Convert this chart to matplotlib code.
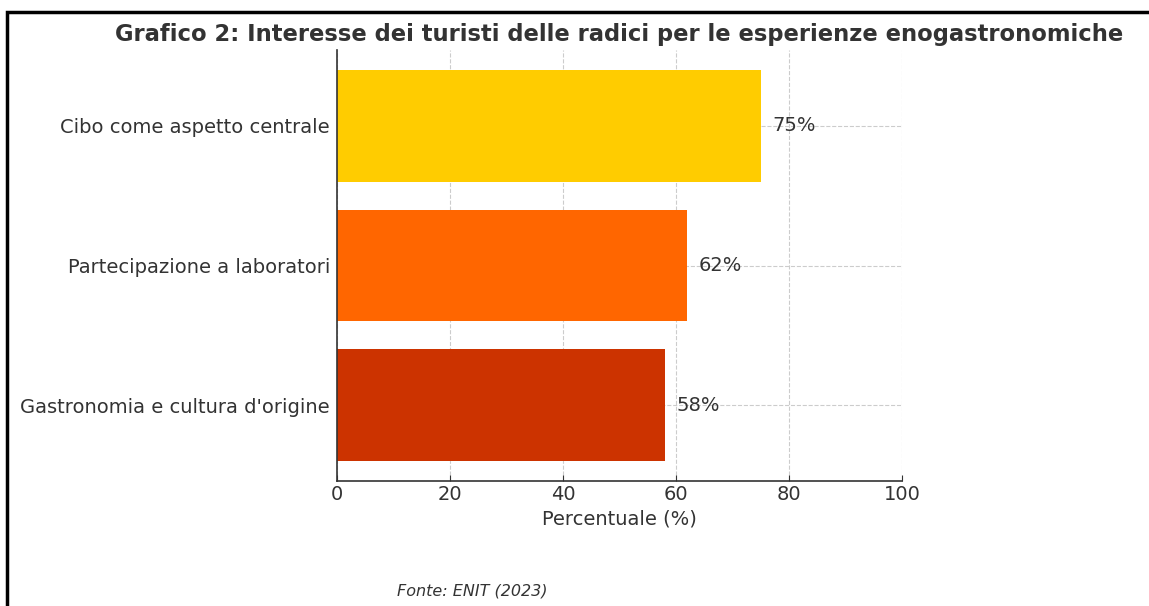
import matplotlib.pyplot as plt
from matplotlib.patches import Rectangle

# Dati (Fonte: ENIT 2023)
categorie = ["Gastronomia e cultura d'origine", "Partecipazione a laboratori", "Cibo come aspetto centrale"]
valori = [58, 62, 75]
colori = ["#CC3300", "#FF6600", "#FFCC00"]

testo = "#333333"

fig = plt.figure(figsize=(11.49, 6.06), dpi=100)
ax = fig.add_axes([337 / 1149, 1 - 481 / 606, 565 / 1149, 431 / 606])

ax.barh(categorie, valori, color=colori, height=0.8, zorder=2)
for i, v in enumerate(valori):
    ax.text(v + 2, i, f"{v}%", va="center", ha="left", fontsize=14, color=testo, zorder=3)

ax.set_xlim(0, 100)
ax.set_xlabel("Percentuale (%)", fontsize=14, color=testo, labelpad=3.5)
ax.set_title("Grafico 2: Interesse dei turisti delle radici per le esperienze enogastronomiche",
             fontsize=16.3, fontweight="bold", color=testo, pad=6.5)
ax.tick_params(axis="both", labelsize=14, colors=testo, direction="in", length=4)
ax.tick_params(axis="x", pad=3)
ax.tick_params(axis="y", pad=5)
ax.grid(True, linestyle="--", color="#cccccc", linewidth=0.8, zorder=0)
ax.set_axisbelow(True)
for s in ["top", "right"]:
    ax.spines[s].set_visible(False)
for s in ["left", "bottom"]:
    ax.spines[s].set_color(testo)
    ax.spines[s].set_linewidth(1.2)

fig.text(397 / 1149, 1 - 591 / 606, "Fonte: ENIT (2023)", fontsize=11.5, style="italic",
         color=testo, va="center", ha="left")

# cornice nera
fig.patches.append(Rectangle((7 / 1149, -0.1), 1.2, 1 - 12 / 606 + 0.1, transform=fig.transFigure,
                             fill=False, edgecolor="black", linewidth=2.5))

fig.savefig("out.png", dpi=100)
